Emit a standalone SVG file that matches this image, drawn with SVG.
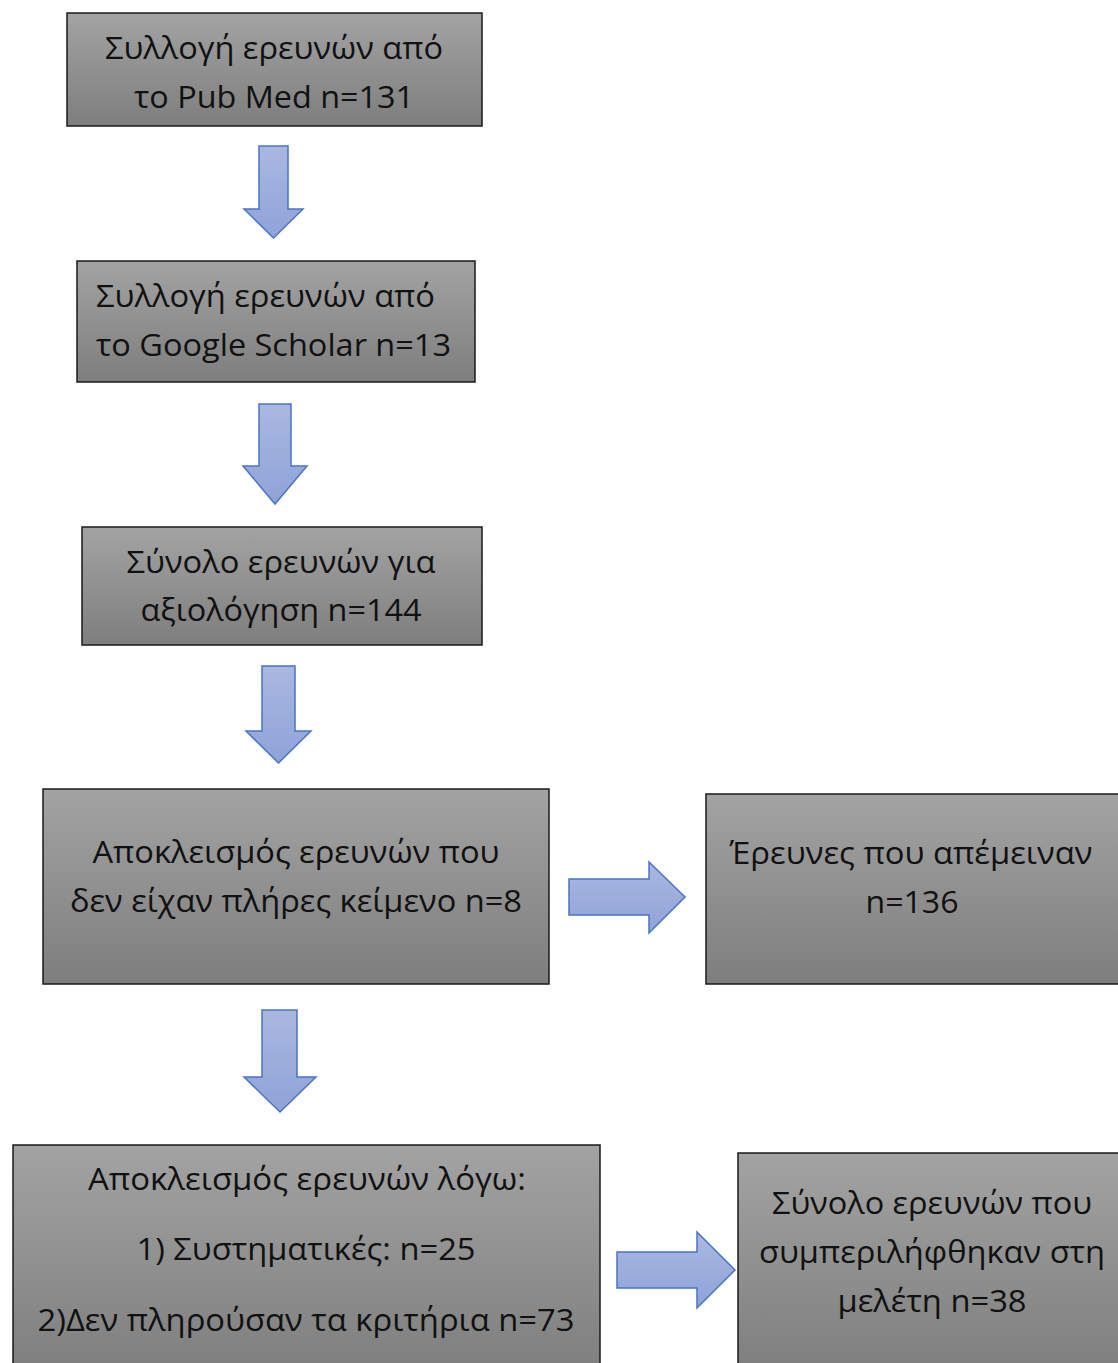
<svg xmlns="http://www.w3.org/2000/svg" width="1118" height="1363" viewBox="0 0 1118 1363">
<defs>
<linearGradient id="gbox" x1="0" y1="0" x2="0" y2="1">
<stop offset="0" stop-color="#a3a3a3"/>
<stop offset="1" stop-color="#7e7e7e"/>
</linearGradient>
<linearGradient id="garr" x1="0" y1="0" x2="0" y2="1">
<stop offset="0" stop-color="#aab8e0"/>
<stop offset="1" stop-color="#8fa3d8"/>
</linearGradient>
</defs>
<style>
.box{fill:url(#gbox);stroke:#1a1a1a;stroke-width:1.5}
.arr{fill:url(#garr);stroke:#4a74c4;stroke-width:1.5;stroke-linejoin:miter}
text{font-family:"Open Sans","Noto Sans",sans-serif;font-size:31px;fill:#111}
.c{text-anchor:middle}
</style>
<rect width="1118" height="1363" fill="#ffffff"/>
<g id="n1">
<rect class="box" x="67" y="13" width="415" height="113"/>
<text class="c" x="274" y="59" textLength="338" lengthAdjust="spacingAndGlyphs">Συλλογή ερευνών από</text>
<text class="c" x="274" y="108" textLength="280" lengthAdjust="spacingAndGlyphs">το Pub Med n=131</text>
</g>
<g id="n2">
<rect class="box" x="77" y="261" width="398" height="121"/>
<text x="96" y="307" textLength="339" lengthAdjust="spacingAndGlyphs">Συλλογή ερευνών από</text>
<text x="96" y="356" textLength="355" lengthAdjust="spacingAndGlyphs">το Google Scholar n=13</text>
</g>
<g id="n3">
<rect class="box" x="82" y="527" width="400" height="118"/>
<text class="c" x="281" y="573" textLength="309" lengthAdjust="spacingAndGlyphs">Σύνολο ερευνών για</text>
<text class="c" x="281" y="621" textLength="281" lengthAdjust="spacingAndGlyphs">αξιολόγηση n=144</text>
</g>
<g id="n4">
<rect class="box" x="43" y="789" width="506" height="195"/>
<text class="c" x="296" y="863" textLength="407" lengthAdjust="spacingAndGlyphs">Αποκλεισμός ερευνών που</text>
<text class="c" x="296" y="912" textLength="452" lengthAdjust="spacingAndGlyphs">δεν είχαν πλήρες κείμενο n=8</text>
</g>
<g id="n5">
<rect class="box" x="706" y="794" width="420" height="190"/>
<text class="c" x="911" y="864" textLength="363" lengthAdjust="spacingAndGlyphs">Έρευνες που απέμειναν</text>
<text class="c" x="912" y="913" textLength="93" lengthAdjust="spacingAndGlyphs">n=136</text>
</g>
<g id="n6">
<rect class="box" x="13" y="1145" width="587" height="230"/>
<text class="c" x="307" y="1190" textLength="438" lengthAdjust="spacingAndGlyphs">Αποκλεισμός ερευνών λόγω:</text>
<text class="c" x="306" y="1260" textLength="339" lengthAdjust="spacingAndGlyphs">1) Συστηματικές: n=25</text>
<text class="c" x="306" y="1331" textLength="537" lengthAdjust="spacingAndGlyphs">2)Δεν πληρούσαν τα κριτήρια n=73</text>
</g>
<g id="n7">
<rect class="box" x="738" y="1153" width="390" height="220"/>
<text class="c" x="932" y="1214" textLength="320" lengthAdjust="spacingAndGlyphs">Σύνολο ερευνών που</text>
<text class="c" x="932" y="1263" textLength="346" lengthAdjust="spacingAndGlyphs">συμπεριλήφθηκαν στη</text>
<text class="c" x="932" y="1312" textLength="189" lengthAdjust="spacingAndGlyphs">μελέτη n=38</text>
</g>
<g id="connectors">
<polygon class="arr" points="259,146 288,146 288,209 303,209 273.5,238 244,209 259,209"/>
<polygon class="arr" points="259,404 291,404 291,466 307,466 275,504 243,466 259,466"/>
<polygon class="arr" points="262,666 295,666 295,731 311,731 278.5,763 246,731 262,731"/>
<polygon class="arr" points="262,1010 297,1010 297,1077 316,1077 280,1112 244,1077 262,1077"/>
<polygon class="arr" points="569,879 649,879 649,862 685,897 649,933 649,915 569,915"/>
<polygon class="arr" points="617,1252 697,1252 697,1232 735,1270 697,1308 697,1288 617,1288"/>
</g>
</svg>
